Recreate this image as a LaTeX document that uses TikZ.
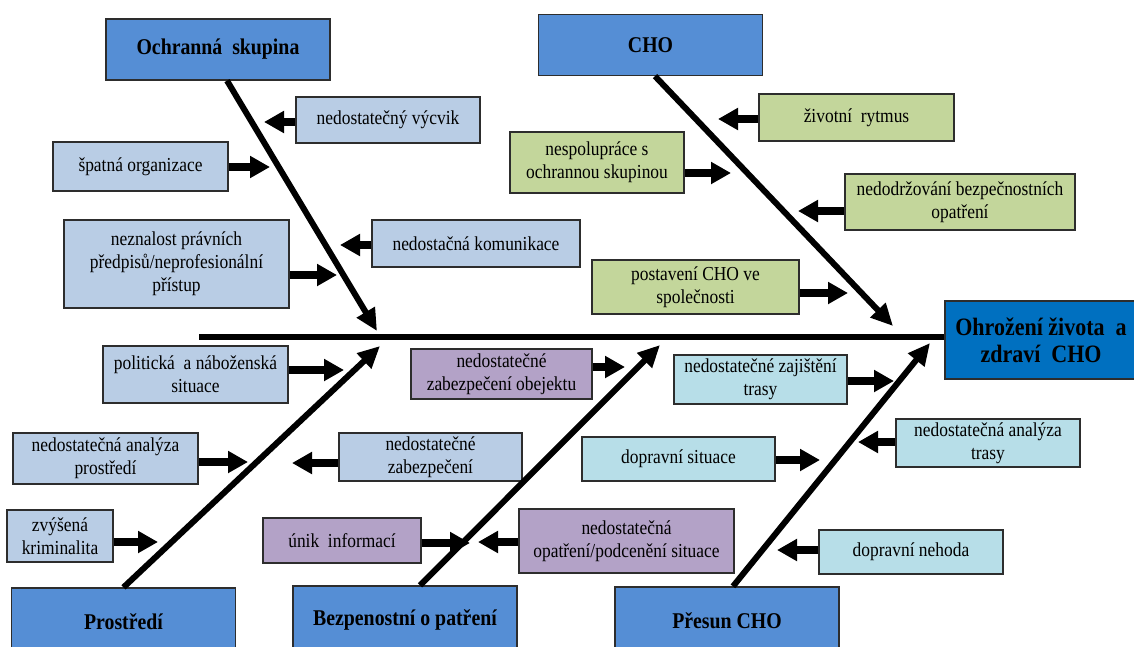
\documentclass[tikz,border=0pt]{standalone}
\usepackage{fontspec}
\setmainfont{Liberation Serif}[FakeStretch=0.88]
\usetikzlibrary{arrows.meta, positioning}
\definecolor{headbg}{RGB}{85, 142, 213}
\definecolor{effectbg}{RGB}{0, 112, 192}
\definecolor{groupbg}{RGB}{185, 205, 229}
\definecolor{chobg}{RGB}{195, 214, 155}
\definecolor{securebg}{RGB}{179, 162, 199}
\definecolor{movebg}{RGB}{183, 222, 232}
\definecolor{edge}{RGB}{45, 45, 45}

\begin{document}
\begin{tikzpicture}[
    x=1pt, y=-1pt,
    box/.style={draw=edge, line width=1.3pt, inner sep=0pt, align=center,
                font=\fontsize{19.8}{23}\selectfont},
    head/.style={box, fill=headbg, minimum width=224pt, minimum height=61pt,
                 font=\fontsize{22.5}{26}\selectfont\bfseries},
    cause/.style={-{Triangle[length=20pt, width=21pt]}, line width=8pt},
    bone/.style={-{Triangle[length=22pt, width=20pt]}, line width=6pt},
  ]
  \useasboundingbox (0,0) rectangle (1134,646);

  \node[head] (och) at (218,49.5) {Ochranná\ \ skupina};
  \node[head] (cho) at (650.5,45) {CHO};
  \node[head, minimum height=68pt] (pro) at (123.5,622) {Prostředí};
  \node[head, minimum height=68pt] (bez) at (405,620) {Bezpenostní o patření};
  \node[head, minimum height=68pt] (pre) at (727,621) {Přesun CHO};
  \node[box, fill=effectbg, minimum width=192pt, minimum height=78pt,
        font=\fontsize{25}{27}\selectfont\bfseries] (ohr) at (1041,340)
        {Ohrožení života\ \ a\\zdraví\ \ CHO};

  \node[box, fill=groupbg, minimum width=184pt, minimum height=46pt] (vycvik) at (388,120) {nedostatečný výcvik};
  \node[box, fill=groupbg, minimum width=175pt, minimum height=49pt] (organ) at (140.5,166.5) {špatná organizace};
  \node[box, fill=groupbg, minimum width=208pt, minimum height=47pt] (komun) at (476,243.5) {nedostačná komunikace};
  \node[box, fill=groupbg, minimum width=225pt, minimum height=88pt] (neznal) at (176.5,264) {neznalost právních\\předpisů/neprofesionální\\přístup};

  \node[box, fill=chobg, minimum width=195pt, minimum height=47pt] (rytmus) at (856.5,117.5) {životní\ \ rytmus};
  \node[box, fill=chobg, minimum width=174pt, minimum height=61pt] (nespol) at (597,162.5) {nespolupráce s\\ochrannou skupinou};
  \node[box, fill=chobg, minimum width=230pt, minimum height=56pt] (nedodr) at (960,202) {nedodržování bezpečnostních\\opatření};
  \node[box, fill=chobg, minimum width=207pt, minimum height=54pt] (postav) at (695.5,287) {postavení CHO ve\\společnosti};

  \node[box, fill=groupbg, minimum width=185pt, minimum height=57pt] (polit) at (195.5,374.5) {politická\ \ a náboženská\\situace};
  \node[box, fill=groupbg, minimum width=185pt, minimum height=51pt] (analpro) at (105.5,458.5) {nedostatečná analýza\\prostředí};
  \node[box, fill=groupbg, minimum width=106pt, minimum height=52pt] (krimi) at (60,536) {zvýšená\\kriminalita};

  \node[box, fill=securebg, minimum width=181pt, minimum height=50pt] (objekt) at (501.5,374) {nedostatečné\\zabezpečení obejektu};
  \node[box, fill=groupbg, minimum width=183pt, minimum height=48pt] (zabez) at (430.5,457) {nedostatečné\\zabezpečení};
  \node[box, fill=securebg, minimum width=158pt, minimum height=45pt] (unik) at (342,540.5) {únik\ \ informací};
  \node[box, fill=securebg, minimum width=215pt, minimum height=64pt] (podcen) at (626.5,541) {nedostatečná\\opatření/podcenění situace};

  \node[box, fill=movebg, minimum width=173pt, minimum height=49pt] (zajist) at (760.5,379.5) {nedostatečné zajištění\\trasy};
  \node[box, fill=movebg, minimum width=184pt, minimum height=48pt] (analtr) at (988,443) {nedostatečná analýza\\trasy};
  \node[box, fill=movebg, minimum width=193pt, minimum height=44pt] (dopsit) at (678.5,459) {dopravní situace};
  \node[box, fill=movebg, minimum width=184pt, minimum height=44pt] (nehoda) at (911,552) {dopravní nehoda};

  \coordinate (tail) at (199,337);
  \draw[line width=6pt] (tail) -- (tail -| ohr.west);

  \coordinate (tOch) at (377,331);
  \coordinate (tCho) at (893,326);
  \coordinate (tPro) at (380,346);
  \coordinate (tBez) at (660,345);
  \coordinate (tPre) at (930,343);
  \draw[bone] ([xshift=9pt]och.south) -- (tOch);
  \draw[bone] ([xshift=4.5pt]cho.south) -- (tCho);
  \draw[bone] (pro.north) -- (tPro);
  \draw[bone] ([xshift=15pt]bez.north) -- (tBez);
  \draw[bone] ([xshift=6pt]pre.north) -- (tPre);

  \coordinate (tVycvik) at (264,122);
  \coordinate (tOrgan) at (270,167);
  \coordinate (tKomun) at (340,245);
  \coordinate (tNeznal) at (337,275);
  \draw[cause] (vycvik.west |- tVycvik) -- (tVycvik);
  \draw[cause] (organ.east |- tOrgan) -- (tOrgan);
  \draw[cause] (komun.west |- tKomun) -- (tKomun);
  \draw[cause] (neznal.east |- tNeznal) -- (tNeznal);

  \coordinate (tRytmus) at (718,119);
  \coordinate (tNespol) at (731,173);
  \coordinate (tNedodr) at (798,211);
  \coordinate (tPostav) at (848,293);
  \draw[cause] (rytmus.west |- tRytmus) -- (tRytmus);
  \draw[cause] (nespol.east |- tNespol) -- (tNespol);
  \draw[cause] (nedodr.west |- tNedodr) -- (tNedodr);
  \draw[cause] (postav.east |- tPostav) -- (tPostav);

  \coordinate (tPolit) at (344,370);
  \coordinate (tAnalpro) at (248,462);
  \coordinate (tKrimi) at (158,542);
  \draw[cause] (polit.east |- tPolit) -- (tPolit);
  \draw[cause] (analpro.east |- tAnalpro) -- (tAnalpro);
  \draw[cause] (krimi.east |- tKrimi) -- (tKrimi);

  \coordinate (tObjekt) at (625,367);
  \coordinate (tZabez) at (292,463);
  \coordinate (tUnik) at (470,543);
  \coordinate (tPodcen) at (478,542);
  \draw[cause] (objekt.east |- tObjekt) -- (tObjekt);
  \draw[cause] (zabez.west |- tZabez) -- (tZabez);
  \draw[cause] (unik.east |- tUnik) -- (tUnik);
  \draw[cause] (podcen.west |- tPodcen) -- (tPodcen);

  \coordinate (tZajist) at (894,381);
  \coordinate (tAnaltr) at (858,442);
  \coordinate (tDopsit) at (820,460);
  \coordinate (tNehoda) at (777,550);
  \draw[cause] (zajist.east |- tZajist) -- (tZajist);
  \draw[cause] (analtr.west |- tAnaltr) -- (tAnaltr);
  \draw[cause] (dopsit.east |- tDopsit) -- (tDopsit);
  \draw[cause] (nehoda.west |- tNehoda) -- (tNehoda);
\end{tikzpicture}
\end{document}
